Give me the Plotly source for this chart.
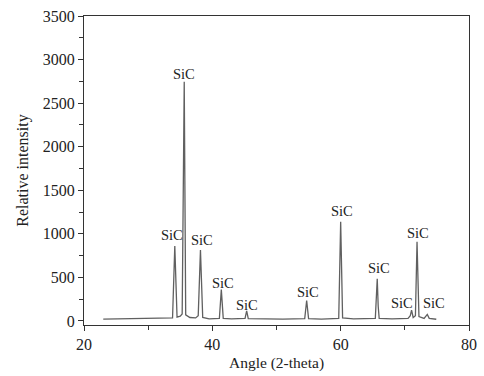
import plotly.graph_objects as go

# XRD pattern (2-theta, relative intensity)
two_theta = [23.0, 26.0, 29.0, 32.0, 33.8, 34.15, 34.5, 35.0, 35.3, 35.62, 35.7, 35.85,
             36.5, 37.4, 37.8, 38.15, 38.5, 39.5, 41.1, 41.4, 41.7, 43.0, 45.1, 45.35,
             45.6, 48.0, 51.0, 54.4, 54.7, 55.0, 57.0, 59.7, 60.0, 60.3, 62.0, 65.4,
             65.7, 65.85, 66.0, 68.0, 70.5, 70.85, 71.05, 71.3, 71.65, 71.9, 72.05,
             72.2, 73.0, 73.5, 73.8, 74.9]
intensity = [22, 25, 22, 28, 35, 860, 45, 55, 80, 2745, 1550, 70,
             40, 35, 60, 815, 40, 25, 30, 360, 30, 25, 30, 115,
             28, 25, 22, 28, 235, 28, 22, 30, 1140, 35, 25, 30,
             485, 170, 30, 25, 30, 60, 125, 40, 60, 910, 300,
             50, 30, 75, 30, 20]

# Peak label positions (label centres, data units)
label_x = [33.67, 35.58, 38.34, 41.61, 45.40, 54.91, 60.16, 65.91, 69.51, 72.05, 74.54]
label_y = [987, 2836, 930, 436, 184, 336, 1266, 608, 210, 1010, 210]
label_text = ["SiC"] * len(label_x)

x_ticks = [20, 40, 60, 80]
y_ticks = [0, 500, 1000, 1500, 2000, 2500, 3000, 3500]

FONT = "Liberation Serif"
AX = "#333333"

fig = go.Figure()
fig.add_trace(go.Scatter(x=two_theta, y=intensity, mode="lines",
                         line=dict(color="#606060", width=1.3), showlegend=False))

for lx, ly, t in zip(label_x, label_y, label_text):
    fig.add_annotation(x=lx, y=ly, text=t, showarrow=False, xanchor="center",
                       yanchor="middle", font=dict(family=FONT, size=14.5, color="#222222"))

fig.update_layout(
    width=484, height=376,
    margin=dict(l=84, r=15, t=16, b=51),
    paper_bgcolor="white", plot_bgcolor="white",
    font=dict(family=FONT, size=16, color="#222222"),
    xaxis=dict(range=[20, 80], tickvals=x_ticks, showgrid=False, zeroline=False,
               showline=True, linecolor=AX, linewidth=1, mirror=True,
               ticks="outside", ticklen=5, tickcolor=AX, automargin=False,
               tickfont=dict(size=16),
               minor=dict(ticks="outside", ticklen=4, dtick=10, tickcolor=AX),
               title=dict(text="Angle (2-theta)", standoff=4, font=dict(size=15.5))),
    yaxis=dict(range=[-46, 3500], tickvals=y_ticks, showgrid=False, zeroline=False,
               showline=True, linecolor=AX, linewidth=1, mirror=True,
               ticks="outside", ticklen=5, tickcolor=AX, automargin=False,
               tickfont=dict(size=16),
               minor=dict(ticks="outside", ticklen=4, dtick=250, tickcolor=AX),
               title=dict(text="Relative intensity", standoff=10, font=dict(size=16))),
)

fig.write_html("out.html", config={"displayModeBar": False},
               post_script="document.body.style.margin='0';")
